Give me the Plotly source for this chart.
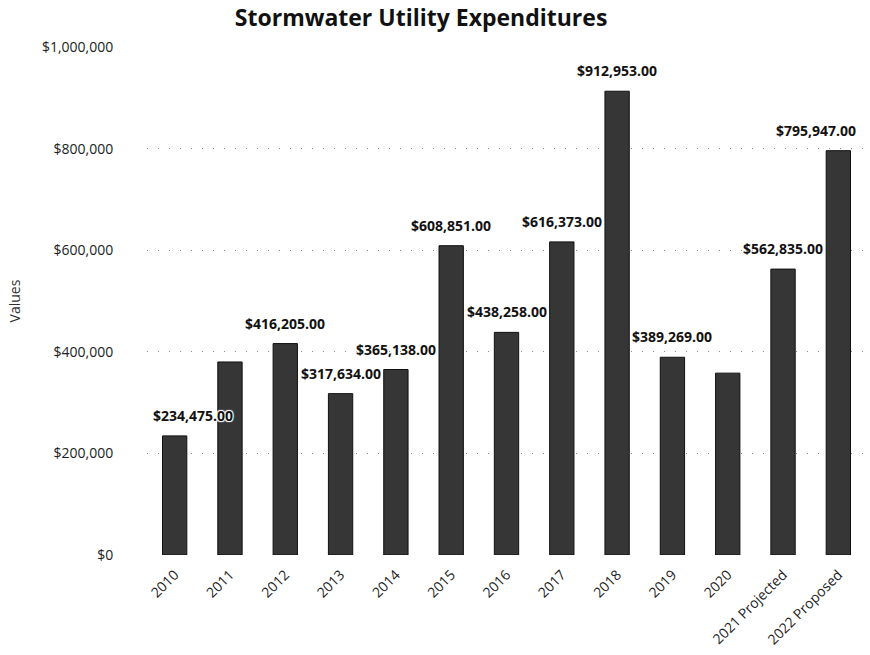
import plotly.graph_objects as go

# Stormwater utility expenditures by year
categories = ["2010", "2011", "2012", "2013", "2014", "2015", "2016",
              "2017", "2018", "2019", "2020", "2021 Projected", "2022 Proposed"]
values = [234475, 380000, 416205, 317634, 365138, 608851, 438258,
          616373, 912953, 389269, 358000, 562835, 795947]
# bars whose value is printed above them
labeled = [True, False, True, True, True, True, True,
           True, True, True, False, True, True]
tick_values = [0, 200000, 400000, 600000, 800000, 1000000]
tick_text = [f"${v:,}" for v in tick_values]

FONT = "Open Sans"

# nudge the outermost labels so they stay inside the page
LABEL_NUDGE = {0: 18, len(categories) - 1: -22}

fig = go.Figure()
fig.add_trace(go.Bar(
    x=categories,
    y=values,
    width=0.44,
    marker=dict(color="#363636", line=dict(color="#111111", width=1)),
))

# value labels with a white halo; category axes place annotations by index
annotations = []
for idx, (val, show) in enumerate(zip(values, labeled)):
    if not show:
        continue
    annotations.append(dict(
        x=idx, y=val, xref="x", yref="y",
        text=f"<b>${val:,.2f}</b>",
        showarrow=False,
        yanchor="bottom",
        yshift=9,
        xshift=LABEL_NUDGE.get(idx, 0),
        font=dict(family=FONT, size=14, color="#111111", shadow="auto"),
    ))

fig.update_layout(
    width=870, height=655,
    margin=dict(l=147, r=4, t=47, b=100),
    paper_bgcolor="white",
    plot_bgcolor="white",
    showlegend=False,
    title=dict(
        text="<b>Stormwater Utility Expenditures</b>",
        x=0.484, xanchor="center", y=0.972, yanchor="middle",
        font=dict(family=FONT, size=23, color="#111111"),
    ),
    font=dict(family=FONT, color="#222222"),
    annotations=annotations,
    xaxis=dict(
        type="category",
        categoryorder="array",
        categoryarray=categories,
        range=[-0.5, len(categories) - 0.5],
        tickangle=-45,
        tickfont=dict(family=FONT, size=14, color="#222222"),
        ticklabelstandoff=8,
        showgrid=False,
        showline=False,
        ticks="",
    ),
    yaxis=dict(
        range=[0, 1000000],
        tickmode="array",
        tickvals=tick_values,
        ticktext=tick_text,
        tickfont=dict(family=FONT, size=14, color="#222222"),
        ticks="outside",
        ticklen=30,
        tickcolor="white",
        showgrid=True,
        gridcolor="#8a8a8a",
        griddash="1px,10px",
        gridwidth=1,
        zeroline=False,
        title=dict(text="Values", font=dict(family=FONT, size=14, color="#333333"), standoff=18),
    ),
)

fig.write_html("out.html")
